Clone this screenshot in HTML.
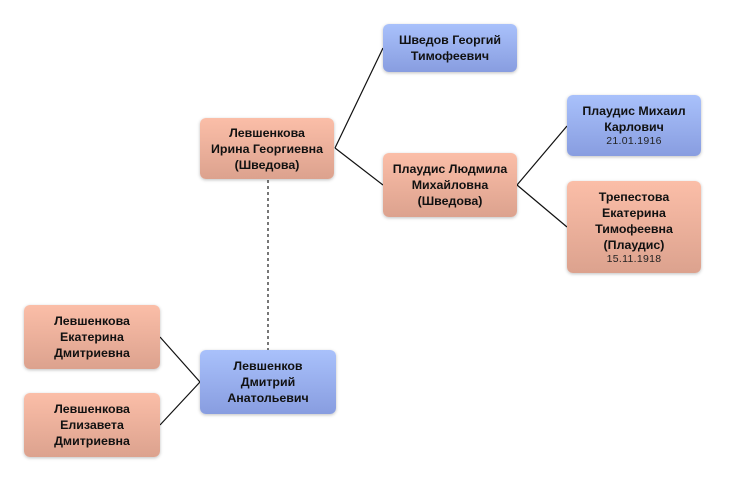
<!DOCTYPE html>
<html><head><meta charset="utf-8"><style>
body{margin:0;width:732px;height:481px;background:#fff;position:relative;font-family:"Liberation Sans",sans-serif;overflow:hidden}
.n{position:absolute;box-sizing:border-box;border-radius:6px;display:flex;flex-direction:column;justify-content:center;align-items:center;text-align:center;font-weight:bold;font-size:12.4px;line-height:16px;color:#111;box-shadow:0 1px 3px rgba(0,0,0,.25)}
.o{background:linear-gradient(#fbbea8,#dca28e)}
.b{background:linear-gradient(#a9c1fb,#889de0)}
.d{font-weight:normal;font-size:10.5px;line-height:13px;color:#222;letter-spacing:0.3px}
svg{position:absolute;left:0;top:0}
</style></head><body>
<svg width="732" height="481">
<g stroke="#111" stroke-width="1.2" fill="none">
<path d="M335 148 L383 48 M335 148 L383 185 M517 185 L567 126 M517 185 L567 227 M200 382 L160 337 M200 382 L160 425"/>
</g>
<path d="M268 180 L268 350" stroke="#777" stroke-width="2" stroke-dasharray="3,3"/>
</svg>
<div class="n b" style="left:383px;top:24px;width:134px;height:48px">Шведов Георгий<br>Тимофеевич</div>
<div class="n o" style="left:200px;top:118px;width:134px;height:61px">Левшенкова<br>Ирина Георгиевна<br>(Шведова)</div>
<div class="n o" style="left:383px;top:153px;width:134px;height:64px">Плаудис Людмила<br>Михайловна<br>(Шведова)</div>
<div class="n b" style="left:567px;top:95px;width:134px;height:61px">Плаудис Михаил<br>Карлович<span class="d">21.01.1916</span></div>
<div class="n o" style="left:567px;top:181px;width:134px;height:92px">Трепестова<br>Екатерина<br>Тимофеевна<br>(Плаудис)<span class="d">15.11.1918</span></div>
<div class="n o" style="left:24px;top:305px;width:136px;height:64px">Левшенкова<br>Екатерина<br>Дмитриевна</div>
<div class="n o" style="left:24px;top:393px;width:136px;height:64px">Левшенкова<br>Елизавета<br>Дмитриевна</div>
<div class="n b" style="left:200px;top:350px;width:136px;height:64px">Левшенков<br>Дмитрий<br>Анатольевич</div>
</body></html>
